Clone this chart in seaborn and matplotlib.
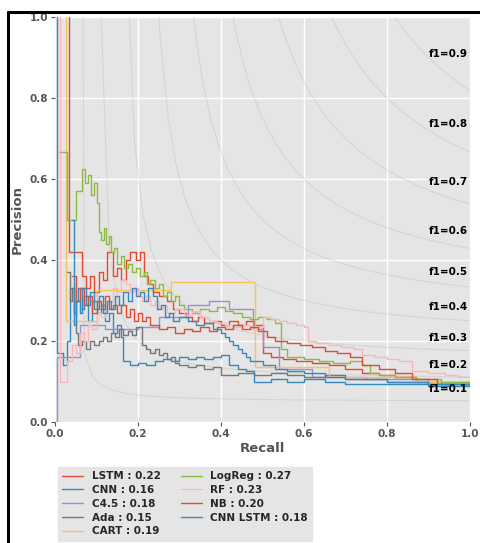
import numpy as np
import pandas as pd
import matplotlib
matplotlib.use("Agg")
import matplotlib.pyplot as plt
from matplotlib.lines import Line2D
import seaborn as sns

# ---------------- data ----------------
labels = ["LSTM : 0.22", "CNN : 0.16", "C4.5 : 0.18", "Ada : 0.15", "CART : 0.19",
          "LogReg : 0.27", "RF : 0.23", "NB : 0.20", "CNN LSTM : 0.18"]
colors = ["#E24A33", "#348ABD", "#988ED5", "#777777", "#FBC15E",
          "#8EBA42", "#FFB5B8", "#E24A33", "#348ABD"]

lstm_r = [0.034, 0.034, 0.065, 0.075, 0.085, 0.095, 0.105, 0.115, 0.125, 0.14, 0.15, 0.16, 0.17, 0.18,
          0.195, 0.205, 0.215, 0.225, 0.235, 0.25, 0.27, 0.285, 0.30, 0.315, 0.33, 0.345, 0.36, 0.38,
          0.40, 0.42, 0.44, 0.46, 0.48, 0.50, 0.52, 0.55, 0.58, 0.62, 0.66, 0.70, 0.74, 0.78, 0.82,
          0.87, 0.93, 1.0]
lstm_p = [1.0, 0.42, 0.36, 0.33, 0.36, 0.32, 0.37, 0.35, 0.42, 0.36, 0.38, 0.35, 0.40, 0.42,
          0.40, 0.42, 0.36, 0.34, 0.32, 0.31, 0.30, 0.28, 0.27, 0.26, 0.25, 0.26, 0.245, 0.25,
          0.24, 0.25, 0.24, 0.25, 0.24, 0.17, 0.16, 0.155, 0.15, 0.145, 0.14, 0.13, 0.12, 0.115, 0.11,
          0.10, 0.095, 0.09]

cnn_r = [0.005, 0.005, 0.02, 0.03, 0.035, 0.045, 0.05, 0.055, 0.065, 0.07, 0.08, 0.09, 0.10, 0.11,
         0.12, 0.13, 0.14, 0.15, 0.16, 0.165, 0.18, 0.2, 0.22, 0.24, 0.26, 0.28, 0.3, 0.32, 0.34,
         0.36, 0.38, 0.40, 0.42, 0.44, 0.46, 0.48, 0.52, 0.56, 0.6, 0.65, 0.7, 0.8, 0.9, 1.0]
cnn_p = [1.0, 0.17, 0.14, 0.2, 0.33, 0.27, 0.3, 0.33, 0.28, 0.31, 0.25, 0.3, 0.27, 0.29,
         0.25, 0.27, 0.22, 0.24, 0.21, 0.15, 0.14, 0.145, 0.14, 0.15, 0.155, 0.15, 0.16, 0.155, 0.16,
         0.155, 0.16, 0.165, 0.14, 0.13, 0.125, 0.1, 0.105, 0.1, 0.105, 0.1, 0.095, 0.095, 0.09, 0.09]

c45_r = [0.0, 0.005, 0.06, 0.12, 0.2, 0.25, 0.32, 0.37, 0.42, 0.477, 0.5, 0.54, 0.62, 0.75, 0.9, 1.0]
c45_p = [0.0, 0.16, 0.24, 0.23, 0.235, 0.26, 0.29, 0.30, 0.28, 0.23, 0.185, 0.13, 0.11, 0.105, 0.1, 0.095]

ada_r = [0.03, 0.035, 0.04, 0.045, 0.05, 0.055, 0.065, 0.075, 0.085, 0.095, 0.105, 0.115, 0.125,
         0.135, 0.145, 0.155, 0.165, 0.175, 0.185, 0.195, 0.21, 0.22, 0.23, 0.24, 0.25, 0.26, 0.27,
         0.28, 0.29, 0.30, 0.32, 0.34, 0.36, 0.38, 0.40, 0.44, 0.48, 0.52, 0.56, 0.6, 0.65, 0.7,
         0.8, 0.9, 1.0]
ada_p = [0.37, 0.30, 0.33, 0.27, 0.22, 0.19, 0.2, 0.18, 0.2, 0.19, 0.2, 0.21, 0.2,
         0.22, 0.21, 0.23, 0.215, 0.225, 0.215, 0.235, 0.19, 0.18, 0.17, 0.18, 0.165, 0.17, 0.155,
         0.16, 0.145, 0.14, 0.135, 0.14, 0.13, 0.135, 0.115, 0.12, 0.115, 0.12, 0.115, 0.11, 0.115,
         0.105, 0.1, 0.095, 0.09]

cart_r = [0.027, 0.027, 0.10, 0.28, 0.482, 0.66, 0.87, 1.0]
cart_p = [1.0, 0.25, 0.325, 0.345, 0.135, 0.11, 0.1, 0.1]

logreg_r = [0.01, 0.03, 0.05, 0.065, 0.072, 0.08, 0.087, 0.093, 0.1, 0.105, 0.112, 0.118, 0.124,
            0.13, 0.136, 0.142, 0.15, 0.158, 0.166, 0.175, 0.185, 0.195, 0.205, 0.215, 0.222, 0.23,
            0.24, 0.25, 0.26, 0.27, 0.28, 0.29, 0.30, 0.31, 0.33, 0.35, 0.37, 0.39, 0.41, 0.43,
            0.45, 0.47, 0.49, 0.51, 0.53, 0.545, 0.56, 0.60, 0.635, 0.67, 0.71, 0.74, 0.76, 0.78,
            0.82, 0.87, 0.93, 1.0]
logreg_p = [0.667, 0.5, 0.57, 0.625, 0.59, 0.61, 0.56, 0.59, 0.54, 0.47, 0.45, 0.48, 0.44,
            0.46, 0.42, 0.43, 0.39, 0.41, 0.38, 0.39, 0.37, 0.38, 0.36, 0.37, 0.34, 0.35,
            0.33, 0.34, 0.31, 0.32, 0.30, 0.31, 0.29, 0.28, 0.27, 0.28, 0.275, 0.285, 0.275, 0.27,
            0.26, 0.255, 0.26, 0.255, 0.245, 0.18, 0.16, 0.155, 0.15, 0.145, 0.15, 0.14, 0.12, 0.115,
            0.11, 0.105, 0.1, 0.095]

rf_r = [0.012, 0.012, 0.03, 0.04, 0.05, 0.06, 0.07, 0.08, 0.09, 0.10, 0.11, 0.12, 0.13, 0.14, 0.15,
        0.16, 0.17, 0.18, 0.19, 0.20, 0.21, 0.22, 0.23, 0.24, 0.25, 0.26, 0.27, 0.29, 0.31, 0.33,
        0.35, 0.37, 0.39, 0.41, 0.43, 0.45, 0.47, 0.49, 0.5, 0.52, 0.54, 0.56, 0.58, 0.6, 0.61,
        0.63, 0.66, 0.69, 0.72, 0.74, 0.77, 0.8, 0.83, 0.86, 0.9, 0.94, 0.97, 1.0]
rf_p = [1.0, 0.10, 0.15, 0.19, 0.17, 0.22, 0.2, 0.24, 0.23, 0.27, 0.26, 0.29, 0.30, 0.33, 0.32,
        0.35, 0.34, 0.32, 0.33, 0.31, 0.30, 0.31, 0.29, 0.30, 0.28, 0.29, 0.27, 0.28, 0.265, 0.275,
        0.26, 0.25, 0.245, 0.24, 0.235, 0.24, 0.23, 0.235, 0.26, 0.255, 0.25, 0.245, 0.24, 0.235, 0.2,
        0.195, 0.19, 0.185, 0.18, 0.165, 0.16, 0.155, 0.15, 0.125, 0.12, 0.115, 0.11, 0.11]

nb_r = [0.04, 0.05, 0.06, 0.07, 0.08, 0.09, 0.10, 0.11, 0.12, 0.13, 0.14, 0.15, 0.16, 0.17, 0.18,
        0.19, 0.20, 0.21, 0.22, 0.23, 0.25, 0.27, 0.29, 0.31, 0.33, 0.35, 0.37, 0.39, 0.41, 0.43,
        0.45, 0.47, 0.49, 0.51, 0.53, 0.56, 0.59, 0.62, 0.65, 0.68, 0.71, 0.74, 0.78, 0.82, 0.86,
        0.92, 1.0]
nb_p = [0.36, 0.30, 0.33, 0.29, 0.31, 0.27, 0.30, 0.28, 0.31, 0.28, 0.29, 0.27, 0.29, 0.26, 0.28,
        0.25, 0.27, 0.25, 0.26, 0.24, 0.23, 0.235, 0.22, 0.23, 0.225, 0.235, 0.225, 0.235, 0.23, 0.24,
        0.23, 0.235, 0.225, 0.21, 0.20, 0.195, 0.19, 0.185, 0.175, 0.17, 0.16, 0.14, 0.13, 0.12, 0.105,
        0.095, 0.09]

cnnlstm_r = [0.04, 0.045, 0.05, 0.06, 0.065, 0.075, 0.085, 0.095, 0.105, 0.115, 0.125, 0.135, 0.145,
             0.155, 0.165, 0.175, 0.185, 0.195, 0.205, 0.215, 0.225, 0.235, 0.245, 0.255, 0.265,
             0.275, 0.285, 0.30, 0.32, 0.34, 0.36, 0.38, 0.40, 0.41, 0.42, 0.43, 0.44, 0.45, 0.46,
             0.47, 0.50, 0.53, 0.56, 0.6, 0.65, 0.7, 0.8, 0.9, 1.0]
cnnlstm_p = [0.5, 0.24, 0.3, 0.27, 0.33, 0.29, 0.32, 0.28, 0.31, 0.27, 0.3, 0.28, 0.31,
             0.29, 0.32, 0.30, 0.33, 0.31, 0.32, 0.30, 0.33, 0.31, 0.28, 0.29, 0.26,
             0.27, 0.25, 0.26, 0.25, 0.24, 0.245, 0.23, 0.22, 0.21, 0.2, 0.19, 0.18, 0.17, 0.16,
             0.15, 0.14, 0.13, 0.125, 0.12, 0.11, 0.105, 0.1, 0.095, 0.09]

f1_levels = [0.1, 0.2, 0.3, 0.4, 0.5, 0.6, 0.7, 0.8, 0.9]
axis_ticks = [0.0, 0.2, 0.4, 0.6, 0.8, 1.0]

recalls = [lstm_r, cnn_r, c45_r, ada_r, cart_r, logreg_r, rf_r, nb_r, cnnlstm_r]
precisions = [lstm_p, cnn_p, c45_p, ada_p, cart_p, logreg_p, rf_p, nb_p, cnnlstm_p]

rows = []
for lab, rr, pp in zip(labels, recalls, precisions):
    for i, (r, p) in enumerate(zip(rr, pp)):
        rows.append({"model": lab, "recall": r, "precision": p, "idx": i})
df = pd.DataFrame(rows)

# ---------------- style ----------------
sns.set_theme(style="darkgrid", rc={
    "axes.facecolor": "#E5E5E5",
    "grid.color": "white",
    "grid.linewidth": 1.0,
    "xtick.major.size": 3,
    "ytick.major.size": 3,
    "xtick.major.width": 0.8,
    "ytick.major.width": 0.8,
    "xtick.color": "#555555",
    "ytick.color": "#555555",
    "xtick.bottom": True,
    "ytick.left": True,
})
plt.rcParams["font.family"] = ["DejaVu Sans"]
plt.rcParams["font.weight"] = "bold"

fig = plt.figure(figsize=(4.81, 5.43), dpi=100)
ax = fig.add_axes([55 / 481, 1 - 422 / 543, 415 / 481, 405 / 543])
for s in ax.spines.values():
    s.set_visible(False)

# iso-f1 curves
xs = np.linspace(0.01, 1)
for f in f1_levels:
    ys = f * xs / (2 * xs - f)
    ax.plot(xs[ys >= 0], ys[ys >= 0], color="gray", alpha=0.16, lw=0.8)
    ax.annotate("f1={0:0.1f}".format(f), xy=(0.9, ys[45] + 0.02),
                fontsize=7.5, fontweight="bold", color="black")

sns.lineplot(data=df, x="recall", y="precision", hue="model", hue_order=labels,
             palette=colors, estimator=None, sort=False, units="model",
             drawstyle="steps-post", linewidth=1.0, ax=ax)

ax.set_xlim(0, 1.0)
ax.set_ylim(0, 1.0)
ax.set_xticks(axis_ticks)
ax.set_yticks(axis_ticks)
ax.set_xticklabels([f"{t:.1f}" for t in axis_ticks])
ax.set_yticklabels([f"{t:.1f}" for t in axis_ticks])
ax.tick_params(labelsize=7.5, pad=2)
for t in ax.get_xticklabels() + ax.get_yticklabels():
    t.set_fontweight("bold")
ax.set_xlabel("Recall", fontsize=9.5, fontweight="bold", color="#555555", labelpad=2)
ax.set_ylabel("Precision", fontsize=9.5, fontweight="bold", color="#555555", labelpad=4)

sns.move_legend(ax, "upper left", bbox_to_anchor=(53 / 481, 1 - 462 / 543),
                bbox_transform=fig.transFigure, ncol=2, title=None,
                frameon=True, facecolor="#E5E5E5", edgecolor="#E5E5E5", framealpha=1.0,
                prop={"size": 7.5, "weight": "bold"}, labelspacing=0.36,
                handlelength=2.0, columnspacing=2.0, borderpad=0.4, fancybox=False)
leg = ax.get_legend()
for h in leg.get_lines():
    h.set_linewidth(1.0)

# figure frame (top and left edges)
fig.add_artist(Line2D([8 / 481, 8 / 481], [0, 1 - 12 / 543], transform=fig.transFigure,
                      color="black", lw=2.2))
fig.add_artist(Line2D([8 / 481, 1.0], [1 - 12 / 543, 1 - 12 / 543], transform=fig.transFigure,
                      color="black", lw=2.2))

fig.savefig("out.png", dpi=100)
